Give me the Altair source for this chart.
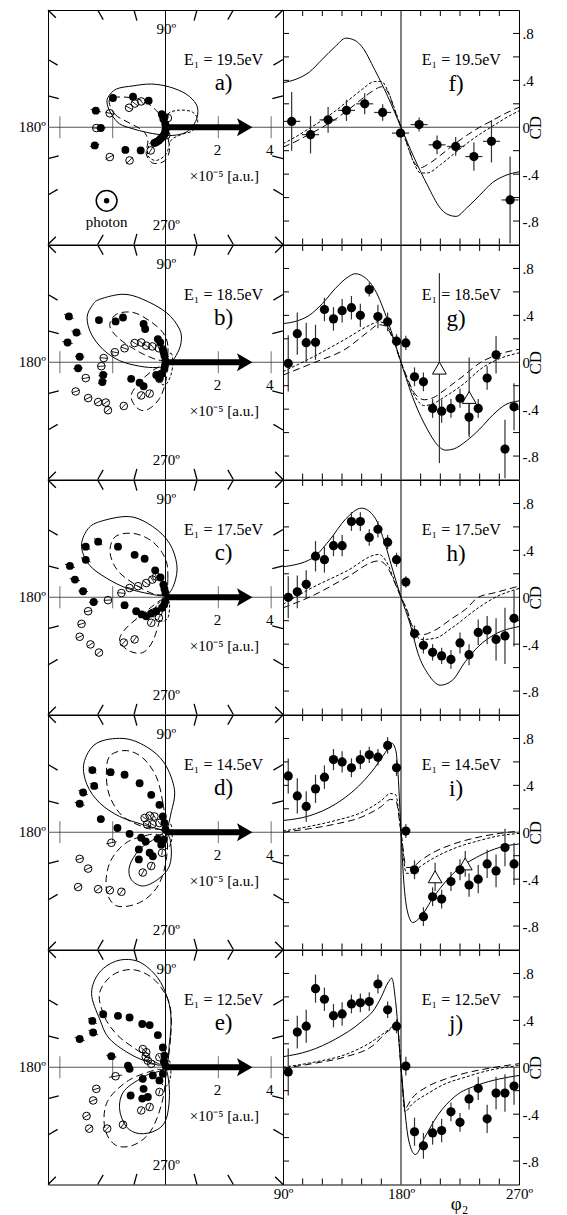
import altair as alt
import pandas as pd

FONT = "Liberation Serif"
PW, CW, RH = 235, 236, 234.5
HALF = 4.45
TICK_LEN = 0.42
EDGE_TICK = 6

ENERGIES = ["19.5", "18.5", "17.5", "14.5", "12.5"]
POLAR_LETTERS = ["a)", "b)", "c)", "d)", "e)"]
CD_LETTERS = ["f)", "g)", "h)", "i)", "j)"]
BORDER_ANGLES = [15, 30, 45, 60, 75, 105, 120, 135, 150, 165, 195, 210, 225, 240, 255, 285, 300, 315, 330, 345]
AXIS_TICKS = [-4, -2, 2, 4]
AXIS_LABELS = [2, 4]
CD_TICKS = [-0.8, -0.6, -0.4, -0.2, 0.2, 0.4, 0.6, 0.8]
PHI_TICKS = [105, 120, 135, 150, 165, 195, 210, 225, 240, 255]
ARROW_X = [0.0, 3.0]

# ---------------- polar panels: (x, y, err) in 1e-5 a.u. ----------------
A_FILL = [(-1.99, 1.11, 0.12), (-1.23, 1.16, 0.1), (-0.64, 1.01, 0.1), (-2.64, 0.63, 0.2), (-2.45, -0.03, 0.18),
          (-2.68, -0.69, 0.18), (-1.52, -0.86, 0.1), (-0.94, -0.88, 0.1), (-0.14, 0.50, 0.05), (-0.08, 0.31, 0.05),
          (-0.05, 0.40, 0.05), (-0.01, 0.13, 0.05), (0.03, -0.03, 0.05), (0.0, -0.08, 0.05), (-0.01, -0.19, 0.05),
          (-0.05, -0.28, 0.05), (-0.10, -0.35, 0.05), (-0.25, -0.50, 0.05), (-0.42, -0.60, 0.05), (-0.11, 0.45, 0.05),
          (0.01, 0.05, 0.05), (-0.03, -0.24, 0.05), (-0.18, -0.43, 0.05), (-0.34, -0.56, 0.05)]
A_OPEN = [(-2.11, 0.53, 0.18), (-1.38, 0.74, 0.15), (-1.16, 0.90, 0.15), (-0.92, 0.98, 0.15), (-2.62, -0.03, 0.15),
          (-2.11, -1.13, 0.18), (-1.36, -1.26, 0.15), (-0.56, -0.88, 0.15), (0.09, 0.35, 0.1), (0.03, -0.30, 0.1)]
A_SOLID = [(-2.18, 1.13), (-1.86, 1.45), (-1.23, 1.57), (-0.54, 1.64), (0.15, 1.53), (0.78, 1.26), (1.16, 0.88),
           (1.22, 0.50), (1.09, 0.13), (0.78, -0.19), (0.28, -0.31), (-0.23, -0.28), (-0.73, -0.19), (-1.23, -0.06),
           (-1.74, 0.13), (-2.05, 0.50), (-2.2, 0.85)]
A_DASH = [(-2.11, 1.07), (-1.92, 0.50), (-1.42, 0.19), (-0.86, -0.13), (-0.67, -0.50), (-0.73, -1.01), (-0.48, -1.36),
          (-0.04, -1.28), (0.15, -0.88), (0.09, -0.38), (0.0, 0.0), (-0.23, 0.50), (-0.73, 0.94), (-1.36, 1.13)]
A_DOT = [(0.0, 0.0), (0.09, 0.50), (0.53, 0.65), (1.03, 0.57), (1.22, 0.25), (1.03, -0.13), (0.59, -0.28), (0.21, -0.50),
         (0.03, -1.01), (-0.35, -1.26), (-0.67, -1.07), (-0.60, -0.63), (-0.23, -0.31)]

B_FILL = [(-3.66, 1.74, 0.2), (-3.37, 1.13, 0.2), (-3.71, 0.75, 0.2), (-3.25, 0.21, 0.18), (-3.31, -0.23, 0.18),
          (-2.52, 1.60, 0.15), (-1.89, 1.55, 0.15), (-1.61, 1.70, 0.15), (-0.83, 1.45, 0.12), (-0.77, 1.26, 0.12),
          (-0.29, 0.88, 0.1), (-0.20, 0.75, 0.1), (-2.36, -0.48, 0.18), (-2.39, -0.75, 0.18), (-1.30, -0.63, 0.12),
          (-0.98, -0.78, 0.12), (-0.83, -0.91, 0.12), (-0.35, -0.48, 0.08), (-0.23, -0.60, 0.08), (-0.10, 0.50, 0.05),
          (-0.04, 0.25, 0.05), (0.0, 0.05, 0.05), (-0.04, -0.25, 0.05), (-0.14, -0.44, 0.05), (-0.07, 0.38, 0.05),
          (-0.02, -0.12, 0.05)]
B_OPEN = [(-3.02, -0.60, 0.15), (-3.40, -1.11, 0.15), (-2.93, -1.36, 0.15), (-2.55, -1.51, 0.15), (-2.26, -1.53, 0.15),
          (-2.18, -1.82, 0.15), (-1.58, -1.66, 0.15), (-0.92, -1.26, 0.15), (-0.60, -1.19, 0.15), (-2.34, 0.16, 0.15),
          (-2.43, -0.15, 0.15), (-1.92, 0.38, 0.15), (-1.55, 0.53, 0.15), (-1.17, 0.73, 0.15), (-0.92, 0.75, 0.15),
          (-0.73, 0.63, 0.15), (-0.50, 0.60, 0.15), (-0.25, 0.53, 0.1), (-0.23, -0.63, 0.1), (-0.16, -0.44, 0.1)]
B_SOLID = [(-2.49, 2.39), (-1.61, 2.58), (-0.86, 2.39), (0.03, 1.89), (0.53, 1.26), (0.59, 0.75), (0.40, 0.25),
           (0.09, -0.10), (-0.35, -0.20), (-0.98, -0.15), (-1.74, 0.06), (-2.36, 0.48), (-2.81, 1.07), (-2.97, 1.70),
           (-2.77, 2.16)]
B_DASH = [(0.0, 0.0), (0.09, 0.63), (-0.10, 1.13), (-0.60, 1.57), (-1.23, 1.89), (-1.86, 1.82), (-2.11, 1.38),
          (-1.74, 0.88), (-0.98, 0.38), (-0.35, 0.10), (0.0, 0.0), (0.03, -0.63), (-0.23, -1.38), (-0.73, -1.82),
          (-1.11, -1.70), (-1.30, -1.26), (-0.98, -0.75), (-0.48, -0.31)]
B_DOT = [(0.0, 0.0), (0.2, 0.35), (0.28, 0.0), (0.2, -0.5), (0.0, -0.85), (-0.2, -0.75), (-0.15, -0.35)]

C_FILL = [(-3.02, 1.92, 0.2), (-2.55, 2.11, 0.2), (-3.02, 1.42, 0.2), (-3.62, 1.19, 0.2), (-3.43, 0.67, 0.2),
          (-3.12, 0.23, 0.18), (-2.72, -0.18, 0.18), (-1.80, 1.92, 0.15), (-1.17, 1.61, 0.12), (-0.79, 1.46, 0.12),
          (-0.39, 1.02, 0.1), (-0.19, 0.75, 0.08), (-0.08, 0.48, 0.05), (0.0, 0.16, 0.05), (-0.01, -0.15, 0.05),
          (-0.13, -0.40, 0.05), (-0.35, -0.53, 0.05), (-0.55, -0.62, 0.05), (-0.73, -0.72, 0.05), (-1.11, -0.53, 0.08),
          (-1.55, -0.30, 0.08), (-0.9, -0.65, 0.06), (-0.04, 0.32, 0.05), (-0.05, -0.28, 0.05)]
C_OPEN = [(-2.18, -0.11, 0.15), (-2.93, -0.53, 0.15), (-3.18, -1.01, 0.15), (-3.25, -1.50, 0.15), (-2.84, -1.79, 0.15),
          (-2.52, -2.10, 0.15), (-1.58, -1.72, 0.15), (-1.17, -1.60, 0.15), (-1.67, 0.16, 0.15), (-1.36, 0.35, 0.15),
          (-1.04, 0.42, 0.15), (-0.73, 0.54, 0.15), (-0.50, 0.67, 0.15), (-0.35, 0.79, 0.12), (-0.48, -0.59, 0.1),
          (-0.25, -0.78, 0.1), (-0.54, -0.97, 0.1)]
C_SOLID = [(-2.49, 2.87), (-1.36, 3.06), (-0.48, 2.68), (0.15, 2.05), (0.43, 1.23), (0.34, 0.54), (0.03, 0.08),
           (-0.60, 0.13), (-1.48, 0.35), (-2.24, 0.73), (-2.89, 1.23), (-3.18, 1.92), (-2.97, 2.55)]
C_DASH = [(0.0, 0.0), (0.09, 0.72), (0.0, 1.45), (-0.48, 2.1), (-1.2, 2.42), (-1.9, 2.3), (-2.1, 1.7), (-1.8, 1.0),
          (-1.1, 0.45), (-0.45, 0.12), (0.0, 0.0), (-0.2, -0.8), (-0.48, -1.66), (-0.86, -2.10), (-1.36, -2.04),
          (-1.74, -1.66), (-1.48, -1.16), (-0.73, -0.53), (-0.25, -0.15)]
C_DOT = [(0.0, 0.0), (0.15, -0.28), (0.09, -0.78), (-0.16, -0.91), (-0.48, -0.72), (-0.35, -0.34)]

D_FILL = [(-2.77, 2.36, 0.2), (-2.08, 2.28, 0.15), (-1.55, 2.18, 0.12), (-0.98, 1.86, 0.12), (-0.54, 1.42, 0.1),
          (-0.23, 1.04, 0.1), (-3.12, 1.51, 0.2), (-3.25, 1.08, 0.2), (-2.70, 1.76, 0.18), (-2.45, 0.50, 0.15),
          (-1.82, 0.16, 0.12), (-1.36, -0.06, 0.1), (-0.92, -0.21, 0.08), (-1.01, -0.65, 0.1), (-1.01, -1.03, 0.1),
          (-0.60, -0.78, 0.08), (-0.48, -0.91, 0.08), (-0.16, -0.47, 0.05), (-0.10, 0.60, 0.05), (-0.04, 0.35, 0.05),
          (0.0, 0.10, 0.05), (-0.06, -0.28, 0.05), (-0.75, -0.35, 0.06), (-0.3, -0.25, 0.05)]
D_OPEN = [(-2.05, -0.40, 0.2), (-3.25, -1.01, 0.15), (-2.93, -1.38, 0.15), (-3.31, -2.08, 0.15), (-2.55, -2.16, 0.15),
          (-2.11, -2.20, 0.15), (-1.67, -2.26, 0.15), (-0.86, -1.53, 0.15), (-0.54, -1.28, 0.15), (-0.79, 0.54, 0.1),
          (-0.60, 0.63, 0.1), (-0.42, 0.60, 0.1), (-0.23, 0.35, 0.1), (-0.13, -0.78, 0.1), (-0.7, 0.3, 0.1),
          (-0.5, 0.3, 0.1)]
D_SOLID = [(0.03, 0.10), (0.21, 0.73), (0.34, 1.61), (-0.04, 2.62), (-0.73, 3.25), (-1.61, 3.56), (-2.62, 3.37),
           (-3.09, 2.62), (-2.97, 1.80), (-2.49, 1.11), (-1.74, 0.60), (-0.86, 0.29), (0.0, 0.0), (0.21, -0.53),
           (0.15, -1.28), (-0.29, -1.79), (-0.86, -2.04), (-1.30, -1.79), (-1.36, -1.28), (-0.98, -0.65), (-0.35, -0.21)]
D_DASH = [(0.0, 0.0), (-0.10, 1.11), (-0.35, 2.11), (-0.86, 2.82), (-1.49, 3.10), (-2.11, 2.89), (-2.24, 2.20),
          (-2.11, 1.36), (-1.61, 0.60), (-0.73, 0.16), (0.0, 0.0), (0.03, -1.03), (-0.29, -2.04), (-0.98, -2.67),
          (-1.86, -2.79), (-2.24, -2.16), (-2.11, -1.16), (-1.49, -0.40), (-0.60, -0.09)]
D_DOT = [(0.0, 0.0), (0.2, 0.3), (0.25, -0.2), (0.1, -0.6), (-0.15, -0.5), (-0.1, -0.15)]

E_FILL = [(-3.25, 1.07, 0.2), (-2.74, 1.32, 0.2), (-2.77, 1.76, 0.2), (-2.36, 2.01, 0.18), (-1.80, 1.95, 0.15),
          (-1.36, 1.89, 0.15), (-0.88, 1.64, 0.12), (-0.60, 1.60, 0.12), (-0.29, 1.22, 0.1), (-0.10, 0.75, 0.08),
          (-0.04, 0.44, 0.05), (-2.05, 0.42, 0.2), (-1.42, 0.06, 0.12), (-1.36, -0.06, 0.12), (-0.86, -0.44, 0.1),
          (-0.83, -0.82, 0.1), (-1.32, -1.07, 0.1), (-0.88, -1.19, 0.1), (-0.67, -1.13, 0.1), (-0.48, -0.31, 0.06),
          (-0.23, -0.50, 0.05), (-0.10, -0.25, 0.05), (0.0, 0.05, 0.05), (-0.06, 0.2, 0.05)]
E_OPEN = [(-0.86, 0.69, 0.1), (-0.73, 0.57, 0.1), (-0.67, 0.25, 0.1), (-0.54, 0.13, 0.1), (-0.23, 0.38, 0.1),
          (-1.89, -0.34, 0.25), (-2.62, -0.82, 0.15), (-2.74, -1.26, 0.15), (-2.99, -1.85, 0.15), (-2.89, -2.33, 0.15),
          (-2.21, -2.33, 0.15), (-1.61, -2.18, 0.15), (-0.92, -1.64, 0.12), (-0.60, -1.51, 0.12), (-0.23, -0.94, 0.1),
          (-0.75, 0.4, 0.1)]
E_SOLID = [(0.0, 0.0), (0.15, 0.94), (0.21, 1.82), (0.09, 2.58), (-0.3, 3.4), (-1.0, 4.0), (-1.8, 4.05), (-2.5, 3.6),
           (-2.8, 2.8), (-2.49, 1.82), (-2.11, 1.07), (-1.23, 0.44), (-0.35, 0.10), (0.0, 0.0), (0.15, -0.94),
           (0.03, -1.95), (-0.35, -2.39), (-0.98, -2.52), (-1.48, -2.26), (-1.74, -1.57), (-1.55, -0.88), (-0.73, -0.31)]
E_DASH = [(0.0, 0.0), (0.2, 1.2), (0.15, 2.4), (-0.4, 3.3), (-1.2, 3.7), (-2.0, 3.5), (-2.5, 2.8), (-2.3, 1.9),
          (-1.8, 1.2), (-1.0, 0.6), (-0.3, 0.15), (0.0, 0.0), (-0.1, -1.2), (-0.54, -2.39), (-1.2, -2.95),
          (-1.9, -2.95), (-2.3, -2.3), (-2.2, -1.3), (-1.4, -0.5), (-0.4, -0.1)]
E_DOT = [(0.0, 0.0), (0.15, 0.25), (0.2, -0.3), (0.05, -0.7), (-0.2, -0.55), (-0.12, -0.15)]

# ---------------- CD panels ----------------
PHI_GRID = [94, 100.9, 107.7, 114.8, 121.6, 128.5, 135.1, 142.2, 149, 155.8, 162.4, 169.8, 176.6, 183.7, 190.3,
            197.1, 204.1, 211, 218.1, 225, 231.9, 238.9, 245.7, 252.5, 259.3, 266.2]
F_PHI = [96.6, 111, 124.4, 138.4, 152.3, 166, 179.6, 193.8, 207.5, 221.7, 235.6, 249, 263.2]
F_CD = [0.05, -0.063, 0.063, 0.144, 0.2, 0.126, -0.05, 0.023, -0.15, -0.164, -0.25, -0.12, -0.62]
F_ERR = [0.25, 0.16, 0.11, 0.09, 0.09, 0.07, 0.03, 0.06, 0.08, 0.08, 0.12, 0.18, 0.37]
F_XERR = 6.5
G_CD = [-0.01, 0.244, 0.167, 0.17, 0.45, 0.37, 0.44, 0.465, 0.40, 0.62, 0.39, 0.345, 0.18, 0.165, -0.124, -0.167,
        -0.394, -0.417, -0.394, -0.307, -0.468, -0.394, -0.135, 0.063, -0.74, -0.38]
G_ERR = [0.24, 0.18, 0.17, 0.15, 0.10, 0.10, 0.10, 0.10, 0.10, 0.06, 0.10, 0.08, 0.06, 0.06, 0.08, 0.08, 0.08, 0.10,
         0.08, 0.08, 0.15, 0.08, 0.10, 0.16, 0.25, 0.20]
G_TRI = [(209.3, -0.05, 0.81), (232, -0.30, 0.34)]
H_CD = [0.0, 0.046, 0.11, 0.35, 0.32, 0.44, 0.44, 0.646, 0.646, 0.51, 0.58, 0.47, 0.32, 0.13, -0.31, -0.41, -0.47,
        -0.50, -0.53, -0.39, -0.49, -0.30, -0.28, -0.36, -0.33, -0.18]
H_ERR = [0.18, 0.14, 0.12, 0.13, 0.11, 0.09, 0.09, 0.08, 0.08, 0.07, 0.07, 0.06, 0.06, 0.05, 0.07, 0.07, 0.07, 0.07,
         0.08, 0.09, 0.09, 0.11, 0.12, 0.18, 0.24, 0.24]
I_CD = [0.48, 0.31, 0.22, 0.37, 0.47, 0.62, 0.60, 0.55, 0.62, 0.66, 0.64, 0.74, 0.55, 0.01, -0.32, -0.72, -0.55,
        -0.57, -0.42, -0.32, -0.45, -0.40, -0.27, -0.33, -0.13, -0.27]
I_ERR = [0.15, 0.15, 0.13, 0.12, 0.10, 0.09, 0.09, 0.08, 0.08, 0.07, 0.07, 0.07, 0.07, 0.06, 0.08, 0.08, 0.08, 0.08,
         0.08, 0.09, 0.10, 0.12, 0.12, 0.14, 0.16, 0.18]
I_TRI = [(206, -0.38, 0.12), (229, -0.27, 0.11)]
J_CD = [-0.04, 0.30, 0.35, 0.67, 0.58, 0.44, 0.455, 0.54, 0.55, 0.56, 0.71, 0.49, 0.35, 0.01, -0.55, -0.67, -0.56,
        -0.54, -0.38, -0.47, -0.27, -0.18, -0.44, -0.22, -0.22, -0.16]
J_ERR = [0.20, 0.14, 0.14, 0.12, 0.10, 0.10, 0.10, 0.08, 0.08, 0.08, 0.08, 0.07, 0.06, 0.08, 0.12, 0.11, 0.10, 0.10,
         0.08, 0.08, 0.09, 0.10, 0.12, 0.14, 0.16, 0.16]

F_SOLID = [(90, 0.38), (100, 0.41), (110, 0.47), (120, 0.58), (130, 0.69), (138, 0.76), (145, 0.74), (150, 0.69),
           (160, 0.49), (170, 0.26), (180, 0), (190, -0.26), (200, -0.49), (210, -0.69), (215, -0.74), (222, -0.76),
           (230, -0.69), (240, -0.58), (250, -0.47), (260, -0.41), (270, -0.38)]
F_DASH = [(90, -0.17), (100, -0.12), (110, -0.06), (120, 0.0), (130, 0.07), (140, 0.15), (150, 0.24), (160, 0.32),
          (165, 0.345), (170, 0.30), (175, 0.15), (180, 0), (185, -0.15), (190, -0.30), (195, -0.345), (200, -0.32),
          (210, -0.24), (220, -0.15), (230, -0.07), (240, 0.0), (250, 0.06), (260, 0.12), (270, 0.17)]
F_DOT = [(90, -0.14), (100, -0.08), (110, -0.01), (120, 0.06), (130, 0.14), (140, 0.23), (150, 0.32), (160, 0.39),
         (165, 0.39), (170, 0.31), (175, 0.16), (180, 0), (185, -0.16), (190, -0.31), (195, -0.39), (200, -0.39),
         (210, -0.32), (220, -0.23), (230, -0.14), (240, -0.06), (250, 0.01), (260, 0.08), (270, 0.14)]
G_SOLID = [(90, 0.33), (100, 0.35), (110, 0.40), (120, 0.50), (130, 0.63), (140, 0.73), (145, 0.755), (150, 0.74),
           (160, 0.62), (170, 0.35), (180, 0), (190, -0.33), (200, -0.57), (210, -0.73), (214, -0.75), (220, -0.74),
           (230, -0.67), (240, -0.57), (250, -0.45), (260, -0.36), (270, -0.33)]
G_DASH = [(90, -0.11), (112, -0.01), (138, 0.115), (155, 0.26), (163, 0.32), (168, 0.31), (173, 0.22), (180, 0),
          (185, -0.14), (190, -0.26), (198, -0.32), (205, -0.30), (214, -0.23), (226, -0.13), (241, 0.0), (255, 0.07),
          (270, 0.11)]
G_DOT = [(90, -0.08), (112, 0.04), (138, 0.20), (155, 0.31), (163, 0.345), (168, 0.33), (173, 0.23), (180, 0),
         (185, -0.15), (190, -0.28), (198, -0.37), (205, -0.35), (214, -0.29), (226, -0.20), (243, -0.04), (255, 0.03),
         (270, 0.08)]
H_SOLID = [(90, 0.26), (112, 0.33), (125, 0.48), (138, 0.67), (150, 0.76), (160, 0.68), (168, 0.45), (174, 0.22),
           (180, 0), (187, -0.23), (193, -0.48), (201, -0.66), (210, -0.75), (219, -0.71), (229, -0.55), (239, -0.42),
           (251, -0.32), (270, -0.25)]
H_DASH = [(90, -0.09), (112, 0.01), (138, 0.165), (163, 0.31), (170, 0.25), (175, 0.13), (180, 0), (185, -0.12),
          (188, -0.23), (196, -0.32), (206, -0.28), (219, -0.18), (229, -0.105), (239, 0), (252, 0.04), (270, 0.095)]
H_DOT = [(90, -0.06), (112, 0.08), (138, 0.22), (163, 0.365), (170, 0.28), (175, 0.14), (180, 0), (185, -0.13),
         (188, -0.25), (196, -0.36), (206, -0.35), (219, -0.26), (239, -0.09), (252, 0.0), (270, 0.075)]
I_SOLID = [(90, 0.10), (110, 0.14), (130, 0.24), (150, 0.42), (160, 0.55), (168, 0.68), (173, 0.76), (176, 0.70),
           (178, 0.45), (180, 0), (182, -0.40), (185, -0.68), (189, -0.77), (195, -0.72), (205, -0.55), (220, -0.35),
           (240, -0.20), (255, -0.13), (270, -0.10)]
I_DASH = [(90, 0.0), (110, 0.03), (130, 0.07), (150, 0.13), (165, 0.22), (172, 0.28), (176, 0.27), (180, 0),
          (184, -0.30), (188, -0.30), (195, -0.24), (205, -0.17), (220, -0.10), (240, -0.04), (255, -0.01), (270, 0.01)]
I_DOT = [(90, 0.01), (110, 0.05), (130, 0.10), (150, 0.17), (165, 0.27), (172, 0.33), (176, 0.32), (180, 0),
         (184, -0.35), (188, -0.35), (195, -0.29), (205, -0.22), (220, -0.14), (240, -0.07), (255, -0.03), (270, -0.01)]
J_SOLID = [(90, 0.09), (110, 0.14), (130, 0.24), (150, 0.39), (160, 0.50), (165, 0.60), (170, 0.72), (173, 0.76),
           (176, 0.55), (180, 0), (186, -0.63), (191, -0.745), (198, -0.60), (208, -0.41), (221, -0.25), (239, -0.15),
           (255, -0.10), (270, -0.07)]
J_DASH = [(90, -0.01), (112, 0.03), (138, 0.09), (158, 0.18), (170.5, 0.31), (177, 0.35), (180, 0), (183, -0.35),
          (188, -0.27), (201, -0.16), (214, -0.10), (229, -0.05), (244, -0.015), (270, 0.03)]
J_DOT = [(90, 0.0), (112, 0.04), (138, 0.11), (158, 0.22), (170.5, 0.32), (177, 0.37), (180, 0), (183, -0.38),
         (188, -0.32), (201, -0.22), (214, -0.14), (229, -0.085), (244, -0.035), (270, 0.015)]

POLAR = [(A_FILL, A_OPEN, A_SOLID, A_DASH, A_DOT), (B_FILL, B_OPEN, B_SOLID, B_DASH, B_DOT),
         (C_FILL, C_OPEN, C_SOLID, C_DASH, C_DOT), (D_FILL, D_OPEN, D_SOLID, D_DASH, D_DOT),
         (E_FILL, E_OPEN, E_SOLID, E_DASH, E_DOT)]
CDP = [(F_PHI, F_CD, F_ERR, [], F_SOLID, F_DASH, F_DOT),
       (PHI_GRID, G_CD, G_ERR, G_TRI, G_SOLID, G_DASH, G_DOT),
       (PHI_GRID, H_CD, H_ERR, [], H_SOLID, H_DASH, H_DOT),
       (PHI_GRID, I_CD, I_ERR, I_TRI, I_SOLID, I_DASH, I_DOT),
       (PHI_GRID, J_CD, J_ERR, [], J_SOLID, J_DASH, J_DOT)]

DASH = [7, 4]
DOT = [3, 2]


def txt(df, X, Y, size, align="center"):
    return alt.Chart(df).mark_text(font=FONT, fontSize=size, align=align, baseline="middle",
                                   color="black").encode(x=X("x"), y=Y("y"), text="t:N")


def polar_chart(k):
    fill, opn, solid, dash, dot = POLAR[k]
    xs = alt.Scale(domain=[-HALF, HALF], nice=False, zero=False)
    ys = alt.Scale(domain=[-HALF, HALF], nice=False, zero=False)
    X = lambda f: alt.X(f, type="quantitative", scale=xs, axis=None)
    Y = lambda f: alt.Y(f, type="quantitative", scale=ys, axis=None)
    one = pd.DataFrame({"v": [0.0]})
    L = []
    L.append(alt.Chart(one).mark_rule(color="black", strokeWidth=1).encode(x=X("v")))
    L.append(alt.Chart(one).mark_rule(color="#555", strokeWidth=1).encode(y=Y("v")))
    tdf = pd.DataFrame({"t": AXIS_TICKS, "z": [0.0] * len(AXIS_TICKS)})
    L.append(alt.Chart(tdf).mark_tick(orient="vertical", size=22, thickness=1, color="#333")
             .encode(x=X("t"), y=Y("z")))
    bdf = pd.DataFrame({"ang": BORDER_ANGLES})
    L.append(alt.Chart(bdf).transform_calculate(
        c="cos(datum.ang*PI/180)", s="sin(datum.ang*PI/180)",
        m="max(abs(datum.c), abs(datum.s))",
        xe=f"{HALF}*datum.c/datum.m", ye=f"{HALF}*datum.s/datum.m",
        xi=f"({HALF}/datum.m - {TICK_LEN})*datum.c", yi=f"({HALF}/datum.m - {TICK_LEN})*datum.s",
    ).mark_rule(color="black", strokeWidth=1.3).encode(x=X("xi"), y=Y("yi"), x2=alt.X2("xe"), y2=alt.Y2("ye")))
    for pts, sd in ((solid, None), (dash, DASH), (dot, DOT)):
        cdf = pd.DataFrame({"x": [p[0] for p in pts], "y": [p[1] for p in pts], "i": list(range(len(pts)))})
        kw = dict(interpolate="cardinal-closed", color="black", strokeWidth=1)
        if sd:
            kw["strokeDash"] = sd
        L.append(alt.Chart(cdf).mark_line(**kw).encode(x=X("x"), y=Y("y"), order="i:Q"))
    for pts, filled in ((opn, False), (fill, True)):
        pdf = pd.DataFrame({"x": [p[0] for p in pts], "y": [p[1] for p in pts], "err": [p[2] for p in pts]})
        L.append(alt.Chart(pdf).transform_calculate(
            r="sqrt(datum.x*datum.x + datum.y*datum.y)",
            kk="datum.err / max(datum.r, 0.05)",
            xa="datum.x*(1-datum.kk)", xb="datum.x*(1+datum.kk)",
            ya="datum.y*(1-datum.kk)", yb="datum.y*(1+datum.kk)",
        ).mark_rule(color="#222", strokeWidth=1).encode(x=X("xa"), y=Y("ya"), x2=alt.X2("xb"), y2=alt.Y2("yb")))
        if filled:
            L.append(alt.Chart(pdf).mark_circle(size=62, color="black", opacity=1).encode(x=X("x"), y=Y("y")))
        else:
            L.append(alt.Chart(pdf).mark_point(shape="circle", size=58, filled=False, color="black",
                                               strokeWidth=1, opacity=1).encode(x=X("x"), y=Y("y")))
    # arrow
    adf = pd.DataFrame({"x": ARROW_X, "y": [0.0, 0.0]})
    L.append(alt.Chart(adf).mark_line(color="black", strokeWidth=6).encode(x=X("x"), y=Y("y")))
    hdf = pd.DataFrame({"x": [ARROW_X[1]], "y": [0.0]})
    L.append(alt.Chart(hdf).mark_point(shape="M-1,-1.15L1,0L-1,1.15L-0.55,0Z", size=240, filled=True,
                                       color="black", opacity=1).encode(x=X("x"), y=Y("y")))
    # labels
    L.append(txt(pd.DataFrame({"x": [0.03, 0.03], "y": [3.71, -3.71], "t": ["90º", "270º"]}), X, Y, 15))
    L.append(alt.Chart(pd.DataFrame({"x": [-HALF], "y": [0.0], "t": ["180º"]})).mark_text(
        font=FONT, fontSize=15, align="right", baseline="middle", dx=-2, color="black")
        .encode(x=X("x"), y=Y("y"), text="t:N"))
    L.append(txt(pd.DataFrame({"x": [1.97, 3.95], "y": [-0.88, -0.88], "t": [str(v) for v in AXIS_LABELS]}), X, Y, 15))
    L.append(txt(pd.DataFrame({"x": [2.2], "y": [2.57], "t": [f"E\u2081 = {ENERGIES[k]}eV"]}), X, Y, 16))
    L.append(txt(pd.DataFrame({"x": [2.2], "y": [1.69], "t": [POLAR_LETTERS[k]]}), X, Y, 23))
    L.append(txt(pd.DataFrame({"x": [2.23], "y": [-1.86], "t": ["\u00d710\u207b\u2075 [a.u.]"]}), X, Y, 15))
    if k == 0:
        ph = pd.DataFrame({"x": [-2.23], "y": [-2.79]})
        L.append(alt.Chart(ph).mark_point(shape="circle", size=430, filled=False, color="black", strokeWidth=1.5,
                                          opacity=1).encode(x=X("x"), y=Y("y")))
        L.append(alt.Chart(ph).mark_circle(size=30, color="black", opacity=1).encode(x=X("x"), y=Y("y")))
        L.append(txt(pd.DataFrame({"x": [-2.23], "y": [-3.6], "t": ["photon"]}), X, Y, 15))
    return alt.layer(*L).properties(width=PW, height=RH)


def cd_chart(k, last):
    phis, cds, errs, tri, solid, dash, dot = CDP[k]
    xs = alt.Scale(domain=[90, 270], nice=False, zero=False)
    ys = alt.Scale(domain=[-1, 1], nice=False, zero=False)
    if last:
        xaxis = alt.Axis(values=[90, 180, 270], labelExpr="datum.value + 'º'", ticks=False, domain=False, grid=False,
                         labelFont=FONT, labelFontSize=15, labelColor="black", labelPadding=2, labelFlush=False,
                         labelOverlap=False, title="φ\u2082", titleFont=FONT, titleFontSize=19,
                         titleFontWeight="normal", titleColor="black", titleX=176, titleY=19,
                         titleBaseline="middle", titleAlign="center")
    else:
        xaxis = None
    yaxis = alt.Axis(orient="right", values=[-0.8, -0.4, 0, 0.4, 0.8],
                     labelExpr="datum.value > 0 ? '.' + round(datum.value*10) : (datum.value < 0 ? '-.' + round(-datum.value*10) : '0')",
                     ticks=False, domain=False, grid=False, labelFont=FONT, labelFontSize=15, labelColor="black",
                     labelPadding=3, labelOverlap=False, title="CD", titleFont=FONT, titleFontSize=17,
                     titleFontWeight="normal", titleColor="black", titleAngle=270, titlePadding=6)
    X = lambda f: alt.X(f, type="quantitative", scale=xs, axis=xaxis)
    Y = lambda f: alt.Y(f, type="quantitative", scale=ys, axis=yaxis)
    L = []
    L.append(alt.Chart(pd.DataFrame({"v": [180.0]})).mark_rule(color="black", strokeWidth=1).encode(x=X("v")))
    L.append(alt.Chart(pd.DataFrame({"v": [0.0]})).mark_rule(color="#444", strokeWidth=1).encode(y=Y("v")))
    # inward edge ticks
    ydf = pd.DataFrame({"t": CD_TICKS})
    L.append(alt.Chart(ydf).mark_rule(color="black", strokeWidth=1)
             .encode(y=Y("t"), x=alt.value(0), x2=alt.value(EDGE_TICK)))
    L.append(alt.Chart(ydf).mark_rule(color="black", strokeWidth=1)
             .encode(y=Y("t"), x=alt.value(CW - EDGE_TICK), x2=alt.value(CW)))
    xdf = pd.DataFrame({"t": PHI_TICKS})
    L.append(alt.Chart(xdf).mark_rule(color="black", strokeWidth=1)
             .encode(x=X("t"), y=alt.value(0), y2=alt.value(EDGE_TICK)))
    L.append(alt.Chart(xdf).mark_rule(color="black", strokeWidth=1)
             .encode(x=X("t"), y=alt.value(RH - EDGE_TICK), y2=alt.value(RH)))
    for pts, sd in ((solid, None), (dash, DASH), (dot, DOT)):
        cdf = pd.DataFrame({"phi": [p[0] for p in pts], "cd": [p[1] for p in pts]})
        kw = dict(interpolate="monotone", color="black", strokeWidth=1)
        if sd:
            kw["strokeDash"] = sd
        L.append(alt.Chart(cdf).mark_line(**kw).encode(x=X("phi"), y=Y("cd")))
    pdf = pd.DataFrame({"phi": phis, "cd": cds, "err": errs})
    L.append(alt.Chart(pdf).transform_calculate(lo="datum.cd - datum.err", hi="datum.cd + datum.err")
             .mark_rule(color="#333", strokeWidth=1.2).encode(x=X("phi"), y=Y("lo"), y2=alt.Y2("hi")))
    if k == 0:
        L.append(alt.Chart(pdf).transform_calculate(pl=f"datum.phi - {F_XERR}", ph=f"datum.phi + {F_XERR}")
                 .mark_rule(color="#333", strokeWidth=1.2).encode(x=X("pl"), x2=alt.X2("ph"), y=Y("cd")))
    if tri:
        tdf = pd.DataFrame({"phi": [t[0] for t in tri], "cd": [t[1] for t in tri], "err": [t[2] for t in tri]})
        L.append(alt.Chart(tdf).transform_calculate(lo="datum.cd - datum.err", hi="datum.cd + datum.err")
                 .mark_rule(color="#333", strokeWidth=1.2).encode(x=X("phi"), y=Y("lo"), y2=alt.Y2("hi")))
        L.append(alt.Chart(tdf).mark_point(shape="triangle-up", size=190, filled=True, fill="white", stroke="black",
                                           strokeWidth=1, opacity=1).encode(x=X("phi"), y=Y("cd")))
    L.append(alt.Chart(pdf).mark_circle(size=85, color="black", opacity=1).encode(x=X("phi"), y=Y("cd")))
    L.append(txt(pd.DataFrame({"x": [226.0], "y": [0.57], "t": [f"E\u2081 = {ENERGIES[k]}eV"]}), X, Y, 16))
    L.append(txt(pd.DataFrame({"x": [222.0], "y": [0.37], "t": [CD_LETTERS[k]]}), X, Y, 23))
    return alt.layer(*L).properties(width=CW, height=RH)


panels = []
for k in range(5):
    panels.append(polar_chart(k))
    panels.append(cd_chart(k, k == 4))

chart = alt.concat(*panels, columns=2, spacing=0, bounds="flush").properties(
    padding={"left": 10, "top": 0, "right": 0, "bottom": 0}
).configure_view(stroke="black", strokeWidth=1).configure_concat(spacing=0)

chart.save("out.html", embed_options={"renderer": "svg", "actions": False})
